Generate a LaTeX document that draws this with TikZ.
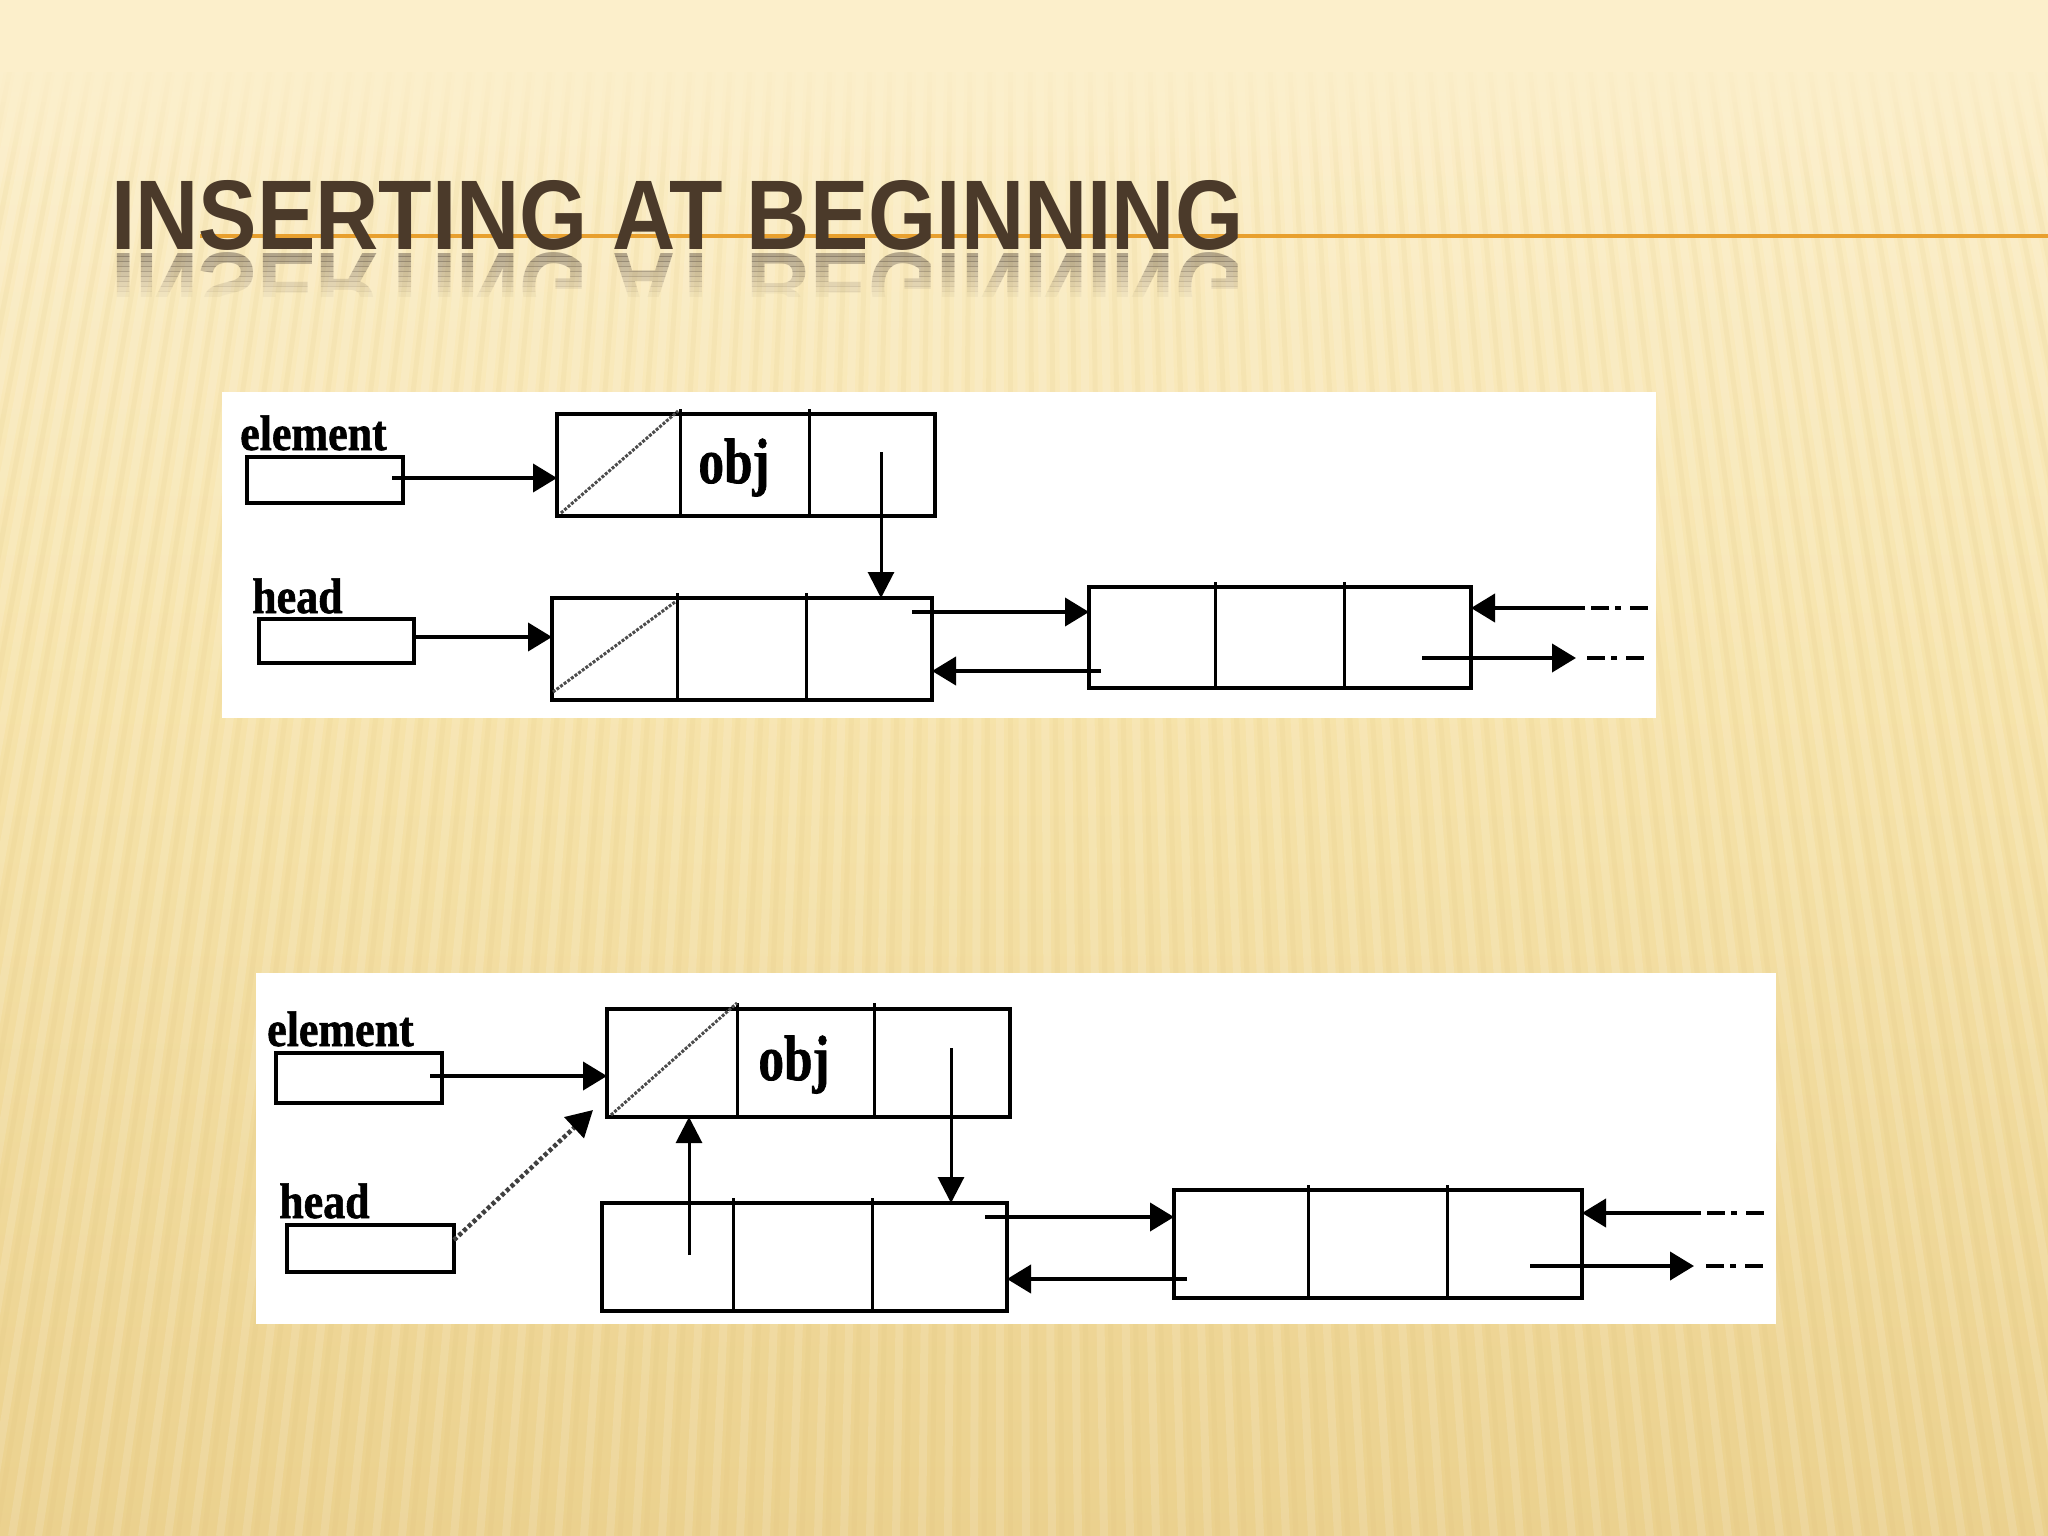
\documentclass[tikz,border=0pt]{standalone}
\usepackage{fontspec}
\setmainfont{Liberation Serif}
\newfontfamily\titlefont{Liberation Sans}
\newfontfamily\lblfont[FakeBold=1.2]{Liberation Serif Bold}
\usetikzlibrary{arrows.meta,calc}
\definecolor{bgtop}{HTML}{FCEFCB}
\definecolor{bgmid}{HTML}{F6E3AA}
\definecolor{bgbot}{HTML}{EBD18E}
\definecolor{titlebrown}{HTML}{4B3A2A}
\definecolor{rulecol}{HTML}{E8A02E}
\definecolor{stripedark}{HTML}{D9BC72}
\newcommand{\ttltext}{\resizebox{1132pt}{69pt}{\titlefont\bfseries INSERTING AT BEGINNING}}
\newcommand{\lbl}[1]{\scalebox{0.88}[1]{\fontsize{50pt}{50pt}\selectfont\lblfont #1}}
\newcommand{\objtxt}{\scalebox{0.8}[1]{\fontsize{64pt}{64pt}\selectfont\lblfont obj}}
\tikzset{
  listnode/.style={draw=black, line width=4.5pt, inner sep=0pt, outer sep=0pt, anchor=north west},
  ptrbox/.style={draw=black, line width=3.5pt, inner sep=0pt, outer sep=0pt, anchor=north west},
  divider/.style={line width=3pt, black},
  slash/.style={line width=3pt, black!70, dash pattern=on 3pt off 1.5pt},
  arr/.style={line width=4pt, -{Triangle[length=24pt,width=28pt]}},
  varr/.style={line width=3pt, -{Triangle[length=26pt,width=26pt]}},
  darr/.style={line width=4.5pt, black!75, dash pattern=on 4pt off 2.5pt, -{Triangle[length=26pt,width=28pt,color=black]}},
  tail/.style={line width=4pt, dash pattern=on 18pt off 6pt on 6pt off 9pt on 18pt off 80pt},
  lbltext/.style={anchor=base west, inner sep=0pt},
}
\begin{document}
\begin{tikzpicture}[x=1pt,y=-1pt]
\useasboundingbox (0,0) rectangle (2048,1536);
% background
\shade[top color=bgtop, bottom color=bgmid] (0,0) rectangle (2048,700);
\shade[top color=bgmid, bottom color=bgbot] (0,700) rectangle (2048,1536);
\foreach \x in {-400,-380,...,2500} {
  \pgfmathsetmacro{\dx}{(\x-1000)*0.3}
  \draw[white, opacity=0.13, line width=8pt] (\x,70) -- (\x+\dx,1536);
  \draw[stripedark, opacity=0.10, line width=5pt] (\x+10,70) -- (\x+10+\dx,1536);
}
\fill[bgtop] (0,0) rectangle (2048,72);
\foreach \i in {0,...,11} {
  \fill[bgtop, opacity={0.75-0.065*\i}] (0,72+10*\i) rectangle (2048,82+10*\i);
}
% title rule and title
\draw[rulecol, line width=4pt] (200,236) -- (2048,236);
\foreach \i in {0,...,8} {
  \begin{scope}
    \clip (100,251+5*\i) rectangle (1260,256+5*\i);
    \node[anchor=north west, inner sep=0pt, text=titlebrown!70!gray, opacity={0.45-0.05*\i}] at (111,252) {\scalebox{1}[-1]{\ttltext}};
  \end{scope}
}
\node[anchor=south west, inner sep=0pt, text=titlebrown] (title) at (111,251) {\ttltext};

% ================= panel 1 =================
\fill[white] (222,392) rectangle (1656,718);
\node[lbltext] (lblE1) at (240,450) {\lbl{element}};
\node[ptrbox, minimum width=156pt, minimum height=46pt] (eb1) at (247,457) {};
\node[lbltext] (lblH1) at (252,613) {\lbl{head}};
\node[ptrbox, minimum width=155pt, minimum height=44pt] (hb1) at (259,619) {};

\node[listnode, minimum width=378pt, minimum height=102pt] (t1) at (557,414) {};
\draw[divider] (680,409) -- (680,516);
\draw[divider] (809,409) -- (809,516);
\draw[slash] (561,513) -- (678,411);
\node[anchor=base, inner sep=0pt] (obj1) at (734,483) {\objtxt};

\node[listnode, minimum width=380pt, minimum height=102pt] (l1) at (552,598) {};
\draw[divider] (677,593) -- (677,700);
\draw[divider] (806,593) -- (806,700);
\draw[slash] (553,692) -- (675,602);

\node[listnode, minimum width=382pt, minimum height=101pt] (n2) at (1089,587) {};
\draw[divider] (1215,582) -- (1215,688);
\draw[divider] (1344,582) -- (1344,688);

\coordinate (e1s) at (392,478);
\draw[arr] (e1s) -- (t1.west |- e1s);
\coordinate (t1p) at (881,452);
\draw[varr] (t1p) -- (t1p |- l1.north);
\coordinate (h1s) at (414,637);
\draw[arr] (h1s) -- (l1.west |- h1s);
\coordinate (l1o) at (912,612);
\draw[arr] (l1o) -- (n2.west |- l1o);
\coordinate (n2b) at (1101,671);
\draw[arr] (n2b) -- (l1.east |- n2b);
\coordinate (in1) at (1585,608);
\coordinate (in1e) at (1650,608);
\draw[arr] (in1) -- (n2.east |- in1);
\draw[tail] (1591,608) -- (in1e);
\coordinate (o1s) at (1422,658);
\coordinate (o1t) at (1576,658);
\coordinate (o1e) at (1650,658);
\draw[arr] (o1s) -- (o1t);
\draw[tail] (1587,658) -- (o1e);

% ================= panel 2 =================
\fill[white] (256,973) rectangle (1776,1324);
\node[lbltext] (lblE2) at (267,1046) {\lbl{element}};
\node[ptrbox, minimum width=166pt, minimum height=50pt] (eb2) at (276,1053) {};
\node[lbltext] (lblH2) at (279,1218) {\lbl{head}};
\node[ptrbox, minimum width=167pt, minimum height=47pt] (hb2) at (287,1225) {};

\node[listnode, minimum width=403pt, minimum height=108pt] (t2) at (607,1009) {};
\draw[divider] (737,1003) -- (737,1117);
\draw[divider] (874,1003) -- (874,1117);
\draw[slash] (611,1115) -- (737,1003);
\node[anchor=base, inner sep=0pt] (obj2) at (794,1080) {\objtxt};

\node[listnode, minimum width=405pt, minimum height=108pt] (l2) at (602,1203) {};
\draw[divider] (733,1198) -- (733,1311);
\draw[divider] (872,1198) -- (872,1311);

\node[listnode, minimum width=408pt, minimum height=108pt] (m2) at (1174,1190) {};
\draw[divider] (1308,1185) -- (1308,1298);
\draw[divider] (1447,1185) -- (1447,1298);

\coordinate (e2s) at (430,1076);
\draw[arr] (e2s) -- (t2.west |- e2s);
\coordinate (h2s) at (454,1240);
\coordinate (h2t) at (593,1110);
\draw[darr] (h2s) -- (h2t);
\coordinate (t2p) at (951,1048);
\draw[varr] (t2p) -- (t2p |- l2.north);
\coordinate (l2p) at (689,1255);
\draw[varr] (l2p) -- (l2p |- t2.south);
\coordinate (l2o) at (985,1217);
\draw[arr] (l2o) -- (m2.west |- l2o);
\coordinate (m2b) at (1187,1279);
\draw[arr] (m2b) -- (l2.east |- m2b);
\coordinate (in2) at (1701,1213);
\coordinate (in2e) at (1772,1213);
\draw[arr] (in2) -- (m2.east |- in2);
\draw[tail] (1707,1213) -- (in2e);
\coordinate (o2s) at (1530,1266);
\coordinate (o2t) at (1694,1266);
\coordinate (o2e) at (1772,1266);
\draw[arr] (o2s) -- (o2t);
\draw[tail] (1706,1266) -- (o2e);
\end{tikzpicture}
\end{document}
